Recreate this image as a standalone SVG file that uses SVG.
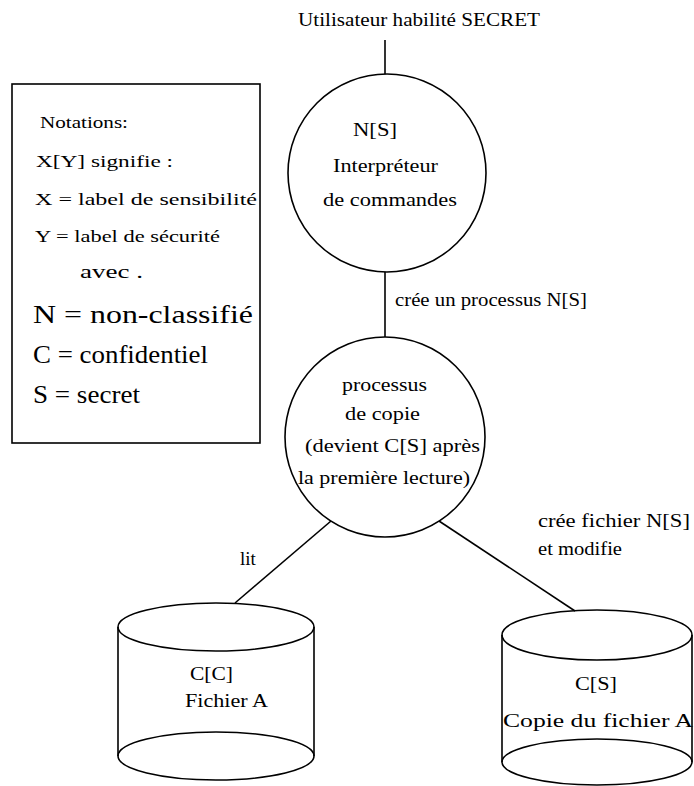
<svg xmlns="http://www.w3.org/2000/svg" width="694" height="786" viewBox="0 0 694 786">
  <style>
    .ln { fill: none; stroke: #000; stroke-width: 1.6; }
    text { font-family: 'Liberation Serif', 'DejaVu Serif', 'Times New Roman', serif; fill: #000; }
    .s16 { font-size: 16px; }
    .s17 { font-size: 17px; }
    .s18 { font-size: 18px; }
    .s19 { font-size: 19px; }
    .s26 { font-size: 26px; }
  </style>
  <rect width="694" height="786" fill="#fff"/>

  <!-- legend box -->
  <g id="legend" font-family="'Liberation Serif', 'DejaVu Serif', serif">
    <rect class="ln" x="12" y="84" width="248" height="359"/>
    <text class="s16" x="40" y="128" textLength="88" lengthAdjust="spacingAndGlyphs">Notations:</text>
    <text class="s17" x="36" y="167" textLength="137" lengthAdjust="spacingAndGlyphs">X[Y] signifie :</text>
    <text class="s17" x="35" y="205" textLength="222" lengthAdjust="spacingAndGlyphs">X = label de sensibilité</text>
    <text class="s17" x="35" y="242" textLength="185" lengthAdjust="spacingAndGlyphs">Y = label de sécurité</text>
    <text class="s19" x="80" y="278" textLength="63" lengthAdjust="spacingAndGlyphs">avec .</text>
    <text class="s26" x="33" y="323" textLength="220" lengthAdjust="spacingAndGlyphs">N = non-classifié</text>
    <text class="s26" x="33" y="363" textLength="175" lengthAdjust="spacingAndGlyphs">C = confidentiel</text>
    <text class="s26" x="33" y="403" textLength="107" lengthAdjust="spacingAndGlyphs">S = secret</text>
  </g>

  <!-- user -->
  <g id="user" font-family="'Liberation Serif', 'DejaVu Serif', serif">
    <text class="s19" x="298" y="26" textLength="242" lengthAdjust="spacingAndGlyphs">Utilisateur habilité SECRET</text>
  </g>

  <!-- connectors -->
  <g id="connectors" font-family="'Liberation Serif', 'DejaVu Serif', serif">
    <line class="ln" x1="385" y1="40" x2="385" y2="74"/>
    <line class="ln" x1="385" y1="272" x2="385" y2="337"/>
    <line class="ln" x1="331" y1="521" x2="235" y2="603"/>
    <line class="ln" x1="439" y1="521" x2="575" y2="611"/>
    <text class="s19" x="395" y="306" textLength="192" lengthAdjust="spacingAndGlyphs">crée un processus N[S]</text>
    <text class="s19" x="240" y="565">lit</text>
    <text class="s19" x="538" y="527" textLength="152" lengthAdjust="spacingAndGlyphs">crée fichier N[S]</text>
    <text class="s19" x="538" y="555" textLength="84" lengthAdjust="spacingAndGlyphs">et modifie</text>
  </g>

  <!-- command interpreter -->
  <g id="interpreter" font-family="'Liberation Serif', 'DejaVu Serif', serif">
    <circle class="ln" cx="387" cy="173" r="99"/>
    <text class="s18" x="353" y="136" textLength="44" lengthAdjust="spacingAndGlyphs">N[S]</text>
    <text class="s18" x="333" y="172" textLength="105" lengthAdjust="spacingAndGlyphs">Interpréteur</text>
    <text class="s18" x="323" y="206" textLength="134" lengthAdjust="spacingAndGlyphs">de commandes</text>
  </g>

  <!-- copy process -->
  <g id="copy-process" font-family="'Liberation Serif', 'DejaVu Serif', serif">
    <circle class="ln" cx="385" cy="437" r="100"/>
    <text class="s19" x="342" y="391" textLength="85" lengthAdjust="spacingAndGlyphs">processus</text>
    <text class="s19" x="345" y="420" textLength="75" lengthAdjust="spacingAndGlyphs">de copie</text>
    <text class="s19" x="305" y="452" textLength="175" lengthAdjust="spacingAndGlyphs">(devient C[S] après</text>
    <text class="s19" x="298" y="484" textLength="172" lengthAdjust="spacingAndGlyphs">la première lecture)</text>
  </g>

  <!-- file A -->
  <g id="file-a" font-family="'Liberation Serif', 'DejaVu Serif', serif">
    <ellipse class="ln" cx="216" cy="627" rx="98" ry="24"/>
    <line class="ln" x1="118" y1="627" x2="118" y2="756"/>
    <line class="ln" x1="314" y1="627" x2="314" y2="756"/>
    <ellipse class="ln" cx="216" cy="756" rx="98" ry="24"/>
    <text class="s19" x="190" y="680" textLength="43" lengthAdjust="spacingAndGlyphs">C[C]</text>
    <text class="s19" x="185" y="707" textLength="83" lengthAdjust="spacingAndGlyphs">Fichier A</text>
  </g>

  <!-- copy of file A -->
  <g id="file-copy" font-family="'Liberation Serif', 'DejaVu Serif', serif">
    <ellipse class="ln" cx="597" cy="635" rx="95" ry="25"/>
    <line class="ln" x1="502" y1="635" x2="502" y2="762"/>
    <line class="ln" x1="692" y1="635" x2="692" y2="762"/>
    <ellipse class="ln" cx="597" cy="762" rx="95" ry="23"/>
    <text class="s19" x="575" y="690" textLength="42" lengthAdjust="spacingAndGlyphs">C[S]</text>
    <text class="s19" x="503" y="727" textLength="190" lengthAdjust="spacingAndGlyphs">Copie du fichier A</text>
  </g>
</svg>
